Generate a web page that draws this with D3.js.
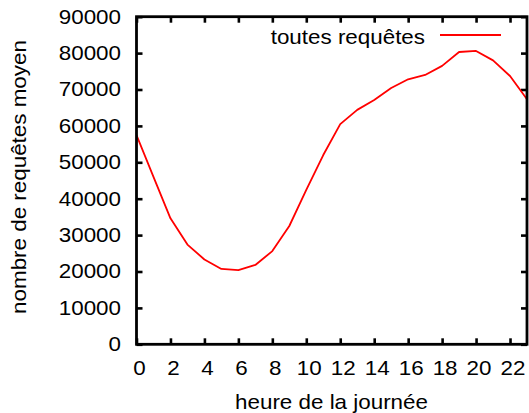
<!DOCTYPE html>
<html>
<head>
<meta charset="utf-8">
<script src="https://cdn.jsdelivr.net/npm/d3@7"></script>
<style>
  html, body { margin: 0; padding: 0; background: #fff; }
  svg { display: block; }
  text { font-family: "Liberation Sans", Arial, Helvetica, sans-serif; font-size: 20px; fill: #000; }
</style>
</head>
<body>
<svg id="chart" width="529" height="413"></svg>
<script>
// ---- data ----
const hours = [0,1,2,3,4,5,6,7,8,9,10,11,12,13,14,15,16,17,18,19,20,21,22,23];
const requests = [57500, 46000, 34600, 27400, 23300, 20700, 20400, 21800, 25600, 32500, 42400, 52000,
                  60500, 64400, 67100, 70400, 72800, 74000, 76500, 80300, 80600, 78000, 73700, 67300];
const xTicks = [0,2,4,6,8,10,12,14,16,18,20,22];
const yTicks = [0,10000,20000,30000,40000,50000,60000,70000,80000,90000];
const seriesName = "toutes requêtes";
const xTitle = "heure de la journée";
const yTitle = "nombre de requêtes moyen";

// ---- layout ----
const L = 136.5, R = 527, T = 16.7, B = 344.3;
const SX = 1.12; // horizontal stretch of glyphs
const svg = d3.select("#chart");
const x = d3.scaleLinear().domain([0, 23]).range([L, R]);
const y = d3.scaleLinear().domain([0, 90000]).range([B, T]);

const tickLen = 6;
const ax = svg.append("g");
// bottom ticks (inward)
ax.append("g").attr("transform", `translate(0,${B})`)
  .call(d3.axisTop(x).tickValues(xTicks).tickSize(tickLen).tickFormat(""))
  .call(g => g.select(".domain").remove());
// top ticks mirrored
ax.append("g").attr("transform", `translate(0,${T})`)
  .call(d3.axisBottom(x).tickValues(xTicks).tickSize(tickLen).tickFormat(""))
  .call(g => g.select(".domain").remove());
// left ticks inward
ax.append("g").attr("transform", `translate(${L},0)`)
  .call(d3.axisRight(y).tickValues(yTicks).tickSize(tickLen).tickFormat(""))
  .call(g => g.select(".domain").remove());
// right ticks mirrored
ax.append("g").attr("transform", `translate(${R},0)`)
  .call(d3.axisLeft(y).tickValues(yTicks).tickSize(tickLen).tickFormat(""))
  .call(g => g.select(".domain").remove());
ax.selectAll(".tick line").attr("stroke", "#000").attr("stroke-width", 2.6);

// tick labels
svg.append("g").selectAll("text").data(xTicks).join("text")
  .attr("transform", d => `translate(${x(d) + 3},375) scale(${SX},1)`)
  .attr("text-anchor", "middle")
  .text(d => d);
svg.append("g").selectAll("text").data(yTicks).join("text")
  .attr("transform", d => `translate(121,${y(d) + 6.8}) scale(${SX},1)`)
  .attr("text-anchor", "end")
  .text(d => d);

// series line
const line = d3.line().x((d, i) => x(hours[i])).y(d => y(d));
svg.append("defs").append("clipPath").attr("id", "clip")
  .append("rect").attr("x", L).attr("y", T).attr("width", R - L).attr("height", B - T);
svg.append("path")
  .datum(requests)
  .attr("clip-path", "url(#clip)")
  .attr("fill", "none")
  .attr("stroke", "#ff0000")
  .attr("stroke-width", 1.8)
  .attr("stroke-linejoin", "round")
  .attr("d", line);

// border
svg.append("rect")
  .attr("x", L).attr("y", T).attr("width", R - L).attr("height", B - T)
  .attr("fill", "none").attr("stroke", "#000").attr("stroke-width", 2.8);

// legend
svg.append("text")
  .attr("transform", `translate(425,43.5) scale(${SX},1)`)
  .attr("text-anchor", "end")
  .text(seriesName);
svg.append("line")
  .attr("x1", 440).attr("x2", 501).attr("y1", 35).attr("y2", 35)
  .attr("stroke", "#ff0000").attr("stroke-width", 1.8);

// axis titles
svg.append("text")
  .attr("transform", `translate(331.5,409) scale(${SX},1)`)
  .attr("text-anchor", "middle")
  .text(xTitle);
svg.append("text")
  .attr("transform", `translate(26,177) rotate(-90) scale(${SX},1)`)
  .attr("text-anchor", "middle")
  .text(yTitle);
</script>
</body>
</html>
